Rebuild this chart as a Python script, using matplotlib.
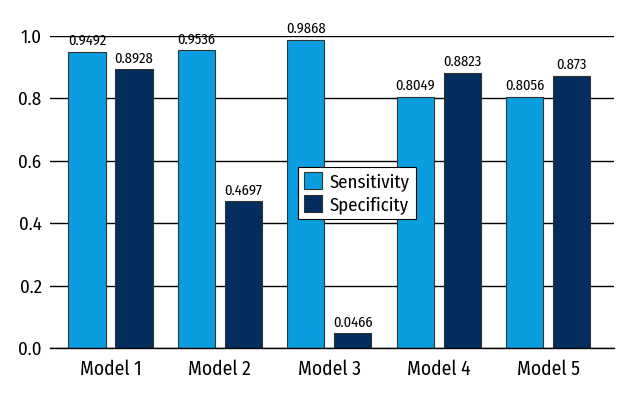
import numpy as np
import matplotlib.pyplot as plt

plt.rcParams['font.family'] = ['Fira Sans Condensed', 'DejaVu Sans']

models = ['Model 1', 'Model 2', 'Model 3', 'Model 4', 'Model 5']
sensitivity = [0.9492, 0.9536, 0.9868, 0.8049, 0.8056]
specificity = [0.8928, 0.4697, 0.0466, 0.8823, 0.873]
sens_labels = ['0.9492', '0.9536', '0.9868', '0.8049', '0.8056']
spec_labels = ['0.8928', '0.4697', '0.0466', '0.8823', '0.873']

x = np.arange(len(models))
w = 0.34
off = 0.215

fig = plt.figure(figsize=(6.4, 4), dpi=100)
ax = fig.add_axes([0.078, 0.13, 0.881, 0.78])

ax.set_axisbelow(True)
ax.yaxis.grid(True, color='black', linewidth=1.0)
ax.bar(x - off, sensitivity, w, color='#0a9ddf', edgecolor='#333333', linewidth=0.8, label='Sensitivity')
ax.bar(x + off, specificity, w, color='#022d5c', edgecolor='#333333', linewidth=0.8, label='Specificity')

for xi, v, s in zip(x - off, sensitivity, sens_labels):
    ax.text(xi, v + 0.012, s, ha='center', va='bottom', fontsize=10.5, clip_on=False)
for xi, v, s in zip(x + off, specificity, spec_labels):
    ax.text(xi, v + 0.012, s, ha='center', va='bottom', fontsize=10.5, clip_on=False)

ax.set_xlim(-0.553, 4.6)
ax.set_ylim(0, 1.0)
ax.set_yticks([0, 0.2, 0.4, 0.6, 0.8, 1.0])
ax.set_yticklabels(['0.0', '0.2', '0.4', '0.6', '0.8', '1.0'])
ax.set_xticks(x)
ax.set_xticklabels(models)
ax.tick_params(axis='x', labelsize=14, length=0, pad=8)
ax.tick_params(axis='y', labelsize=13.5, length=0, pad=6)
for sp in ['top', 'right', 'left']:
    ax.spines[sp].set_visible(False)
ax.spines['bottom'].set_linewidth(1.0)

leg = ax.legend(loc='lower left', bbox_to_anchor=(0.44, 0.413), fontsize=13.5,
                frameon=True, fancybox=False, edgecolor='black', framealpha=1,
                handlelength=1.0, handleheight=1.0, handletextpad=0.4,
                borderpad=0.3, labelspacing=0.2, borderaxespad=0)
leg.get_frame().set_linewidth(0.8)

fig.savefig('out.png', dpi=100)
